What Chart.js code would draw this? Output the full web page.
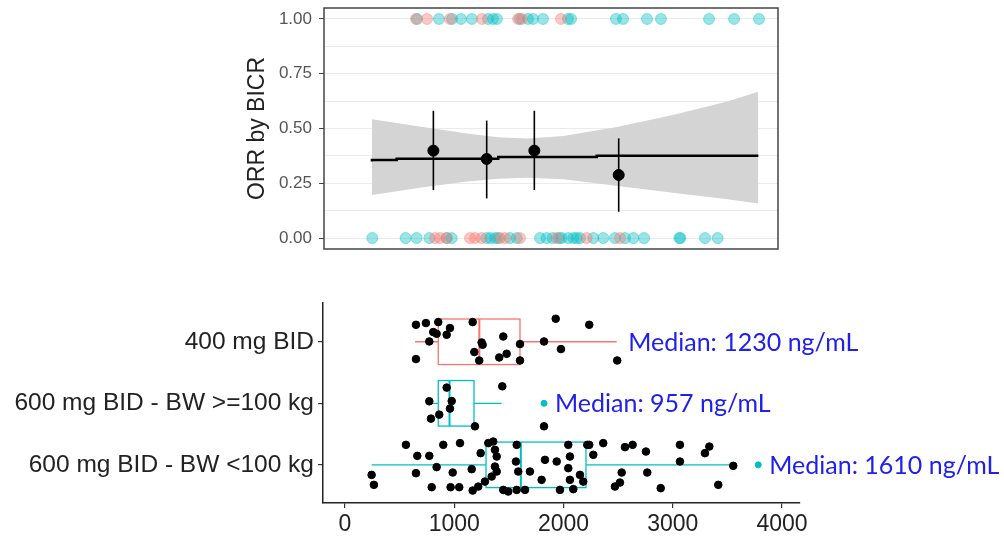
<!DOCTYPE html>
<html>
<head>
<meta charset="utf-8">
<script src="https://cdn.jsdelivr.net/npm/chart.js@4"></script>
<style>
  body { margin: 0; background: #fff; }
  #wrap { position: relative; width: 1004px; height: 540px; }
  canvas { position: absolute; left: 0; }
</style>
</head>
<body>
<div id="wrap">
  <canvas id="orrChart" width="1004" height="270" style="top:0"></canvas>
  <canvas id="boxChart" width="1004" height="270" style="top:270px"></canvas>
</div>
<script>
// ---- top panel: exposure vs ORR ----
const orrTicks = [0, 0.125, 0.25, 0.375, 0.5, 0.625, 0.75, 0.875, 1];

// individual patients (x = exposure, ng/mL), responders at 1, non-responders at 0
const respRed = [650, 751, 961, 1254, 1584, 1620, 1977];
const respCyan = [660, 860, 980, 1062, 1162, 1309, 1355, 1391, 1600, 1675, 1721, 1812,
  2041, 2069, 2480, 2545, 2764, 2892, 3332, 3561, 3789];
const nonRespRed = [824, 870, 931, 1144, 1190, 1251, 1419, 1465, 1602, 1938, 2212, 2517];
const nonRespCyan = [250, 555, 656, 772, 931, 977, 1297, 1330, 1373, 1400, 1510, 1572,
  1785, 1846, 1900, 1960, 1983, 2044, 2090, 2120, 2151, 2273, 2364, 2471, 2563, 2639,
  2737, 3060, 3070, 3295, 3411];

// observed ORR by exposure quartile with 95% CI
const quartX = [809, 1297, 1733, 2505];
const quartOrr = [0.399, 0.361, 0.399, 0.288];
const quartLo = [0.219, 0.181, 0.219, 0.12];
const quartHi = [0.581, 0.536, 0.581, 0.455];

// logistic fit and its confidence band
const fitX = [247, 473, 1403, 2304, 3204, 3783];
const fitY = [0.349, 0.356, 0.362, 0.37, 0.376, 0.376];
const bandX = [247, 700, 1100, 1400, 1666, 2000, 2500, 3000, 3500, 3783];
const bandHi = [0.542, 0.508, 0.478, 0.46, 0.454, 0.466, 0.508, 0.562, 0.623, 0.668];
const bandLo = [0.196, 0.231, 0.257, 0.271, 0.275, 0.268, 0.237, 0.207, 0.177, 0.158];

// ---- bottom panel: exposure by dose group ----
const groups = ["400 mg BID", "600 mg BID - BW >=100 kg", "600 mg BID - BW <100 kg"];
const groupColors = ["#F8766D", "#00BFC4", "#00BFC4"];
const xTicks = [0, 1000, 2000, 3000, 4000];
const medians = [1230, 957, 1610];
const boxQ1 = [854, 854, 1291];
const boxQ3 = [1602, 1181, 2206];
const whiskerLo = [641, 800, 244];
const whiskerHi = [2487, 1434, 3554];
const outliers = [[], [1822], [3783]];

const jitterX = [
  [650, 741, 854, 808, 839, 772, 961, 931, 650, 1169, 1251, 1260, 1184, 1229, 1449,
    1412, 1480, 1602, 1602, 1822, 1929, 1977, 2236, 2492],
  [931, 772, 977, 961, 863, 787, 1190, 1440, 1822],
  [244, 265, 558, 662, 772, 900, 1053, 839, 650, 794, 986, 967, 1046, 1160, 1169, 1242,
    1312, 1357, 1373, 1389, 1373, 1389, 1343, 1281, 1220, 1572, 1565, 1586, 1693, 1449,
    1495, 1572, 1648, 1800, 1831, 1938, 2044, 2059, 2044, 1968, 2059, 2090, 2151, 2181,
    2218, 2236, 2273, 2364, 2563, 2633, 2755, 3066, 3066, 3335, 3295, 3554, 2533, 2767,
    2517, 2471, 2890, 3417],
];
const jitterY = [
  [0.276, 0.304, 0.32, 0.158, 0.13, 0.005, 0.223, 0.114, -0.281, 0.32, -0.011, -0.049,
    -0.167, -0.304, 0.086, -0.255, -0.195, -0.037, -0.304, 0.005, 0.374, -0.119, 0.276,
    -0.304],
  [0.255, 0.033, 0.037, -0.086, -0.184, -0.249, -0.374, 0.276, -0.374],
  [-0.163, -0.325, 0.325, 0.146, 0.146, 0.325, 0.353, -0.037, -0.135, -0.363, -0.125,
    -0.363, -0.363, -0.07, -0.418, 0.19, 0.353, 0.379, 0.244, 0.135, -0.028, -0.109,
    -0.19, -0.272, -0.353, 0.325, 0.054, -0.109, -0.109, -0.407, -0.434, -0.407, -0.407,
    -0.244, 0.081, 0.054, 0.325, 0.135, -0.054, -0.407, -0.244, -0.395, -0.163, -0.272,
    0.325, 0.325, 0.163, 0.353, 0.288, 0.325, 0.216, 0.325, 0.054, 0.297, 0.19, -0.016,
    -0.125, -0.125, -0.288, -0.353, -0.379, -0.325],
];

Chart.defaults.font.family = "'Liberation Sans', Arial, sans-serif";
Chart.defaults.animation = false;

const RED_A = "rgba(248,118,109,0.4)";
const CYAN_A = "rgba(0,191,196,0.4)";

function rowPoints(xs, yv) {
  return xs.map((v) => ({ x: v, y: yv }));
}

// fixed axis size, no automatic label padding
function fixSize(key, size) {
  return (s) => {
    s[key] = size;
    s.paddingTop = 0;
    s.paddingBottom = 0;
    s.paddingLeft = 0;
    s.paddingRight = 0;
  };
}

const panelBorder = {
  id: "panelBorder",
  afterDraw: (chart) => {
    const { ctx, chartArea: a } = chart;
    ctx.save();
    ctx.strokeStyle = "#444";
    ctx.lineWidth = 1.5;
    ctx.strokeRect(a.left, a.top, a.right - a.left, a.bottom - a.top);
    ctx.restore();
  },
};

function orrChart() {
  const ctx = document.getElementById("orrChart").getContext("2d");
  const datasets = [
    { data: rowPoints(respRed, 1), backgroundColor: RED_A, borderColor: RED_A, pointRadius: 5.5, order: 1 },
    { data: rowPoints(respCyan, 1), backgroundColor: CYAN_A, borderColor: CYAN_A, pointRadius: 5.5, order: 1 },
    { data: rowPoints(nonRespRed, 0), backgroundColor: RED_A, borderColor: RED_A, pointRadius: 5.5, order: 1 },
    { data: rowPoints(nonRespCyan, 0), backgroundColor: CYAN_A, borderColor: CYAN_A, pointRadius: 5.5, order: 1 },
    {
      data: quartX.map((v, i) => ({ x: v, y: quartOrr[i] })),
      backgroundColor: "#000", borderColor: "#000", pointRadius: 5.5, order: 0,
    },
    {
      type: "line",
      data: fitX.map((v, i) => ({ x: v, y: fitY[i] })),
      stepped: "after", borderColor: "#000", borderWidth: 2.5, pointRadius: 0, order: 5,
    },
    {
      type: "line",
      data: bandX.map((v, i) => ({ x: v, y: bandHi[i] })),
      borderWidth: 0, borderColor: "rgba(0,0,0,0)", pointRadius: 0, fill: false, order: 10,
    },
    {
      type: "line",
      data: bandX.map((v, i) => ({ x: v, y: bandLo[i] })),
      borderWidth: 0, borderColor: "rgba(0,0,0,0)", pointRadius: 0,
      fill: "-1", backgroundColor: "#d4d4d4", order: 10,
    },
  ];
  quartX.forEach((v, i) => {
    datasets.push({
      type: "line",
      data: [{ x: v, y: quartLo[i] }, { x: v, y: quartHi[i] }],
      borderColor: "#000", borderWidth: 1.6, pointRadius: 0, order: 2,
    });
  });

  new Chart(ctx, {
    type: "scatter",
    data: { datasets: datasets },
    options: {
      responsive: false,
      devicePixelRatio: 1,
      layout: { padding: { left: 244, right: 226, top: 8, bottom: 21 } },
      scales: {
        x: { type: "linear", display: false, min: -192, max: 3963 },
        y: {
          min: -0.05,
          max: 1.05,
          afterBuildTicks: (s) => {
            s.ticks = orrTicks.map((v) => ({ value: v }));
          },
          afterFit: fixSize("width", 80),
          title: {
            display: true, text: "ORR by BICR", color: "#222",
            font: { size: 23 }, padding: 0,
          },
          ticks: {
            color: "#555",
            font: { size: 17 },
            padding: 7,
            callback: (v) => (v % 0.25 === 0 ? v.toFixed(2) : ""),
          },
          grid: {
            color: "#ebebeb",
            tickLength: 5,
            tickColor: (c) => (c.tick && c.tick.value % 0.25 === 0 ? "#444" : "rgba(0,0,0,0)"),
          },
          border: { display: false },
        },
      },
      plugins: { legend: { display: false }, tooltip: { enabled: false } },
    },
    plugins: [panelBorder],
  });
}

const boxPlugin = {
  id: "boxes",
  beforeDatasetsDraw: (chart) => {
    const { ctx, scales: { x, y } } = chart;
    ctx.save();
    ctx.lineWidth = 1.3;
    groups.forEach((g, i) => {
      const c = groups.length - i;
      const yc = y.getPixelForValue(c);
      const top = y.getPixelForValue(c + 0.37);
      const bot = y.getPixelForValue(c - 0.37);
      const q1 = x.getPixelForValue(boxQ1[i]);
      const q3 = x.getPixelForValue(boxQ3[i]);
      const med = x.getPixelForValue(medians[i]);
      ctx.strokeStyle = groupColors[i];
      ctx.beginPath();
      ctx.moveTo(x.getPixelForValue(whiskerLo[i]), yc);
      ctx.lineTo(q1, yc);
      ctx.moveTo(q3, yc);
      ctx.lineTo(x.getPixelForValue(whiskerHi[i]), yc);
      ctx.stroke();
      ctx.strokeRect(q1, top, q3 - q1, bot - top);
      ctx.lineWidth = 2;
      ctx.beginPath();
      ctx.moveTo(med, top);
      ctx.lineTo(med, bot);
      ctx.stroke();
      ctx.lineWidth = 1.3;
    });
    ctx.restore();
  },
  afterDraw: (chart) => {
    const { ctx, scales: { x, y } } = chart;
    ctx.save();
    ctx.fillStyle = "#2020ee";
    ctx.font = "25px Lato, 'Open Sans', sans-serif";
    ctx.textBaseline = "middle";
    groups.forEach((g, i) => {
      const maxX = Math.max(...jitterX[i], ...outliers[i]);
      ctx.fillText(
        "Median: " + medians[i] + " ng/mL",
        x.getPixelForValue(maxX) + 11,
        y.getPixelForValue(groups.length - i) + 1
      );
    });
    ctx.restore();
  },
};

function boxChart() {
  const ctx = document.getElementById("boxChart").getContext("2d");
  const datasets = [];
  groups.forEach((g, i) => {
    const c = groups.length - i;
    datasets.push({
      data: outliers[i].map((v) => ({ x: v, y: c })),
      backgroundColor: groupColors[i], borderColor: groupColors[i], pointRadius: 3,
    });
    datasets.push({
      data: jitterX[i].map((v, k) => ({ x: v, y: c + jitterY[i][k] })),
      backgroundColor: "#000", borderColor: "#000", pointRadius: 3.8,
    });
  });

  new Chart(ctx, {
    type: "scatter",
    data: { datasets: datasets },
    options: {
      responsive: false,
      devicePixelRatio: 1,
      layout: { padding: { left: 0, right: 204, top: 33, bottom: 0 } },
      scales: {
        x: {
          type: "linear",
          min: -201,
          max: 4165,
          afterBuildTicks: (s) => {
            s.ticks = xTicks.map((v) => ({ value: v }));
          },
          afterFit: fixSize("height", 37),
          ticks: {
            color: "#222",
            font: { size: 23 },
            padding: 3,
            maxRotation: 0,
            callback: (v) => String(v),
          },
          grid: { drawOnChartArea: false, tickLength: 5, color: "#333", lineWidth: 1.2 },
          border: { color: "#222", width: 1.5 },
        },
        y: {
          min: 0.38,
          max: 3.63,
          afterBuildTicks: (s) => {
            s.ticks = [3, 2, 1].map((v) => ({ value: v }));
          },
          afterFit: fixSize("width", 323),
          ticks: {
            color: "#222",
            font: { size: 24.5 },
            padding: 4,
            callback: (v) => groups[groups.length - v],
          },
          grid: { drawOnChartArea: false, tickLength: 5, color: "#333", lineWidth: 1.2 },
          border: { color: "#222", width: 1.5 },
        },
      },
      plugins: { legend: { display: false }, tooltip: { enabled: false } },
    },
    plugins: [boxPlugin],
  });
}

orrChart();
boxChart();
</script>
</body>
</html>
